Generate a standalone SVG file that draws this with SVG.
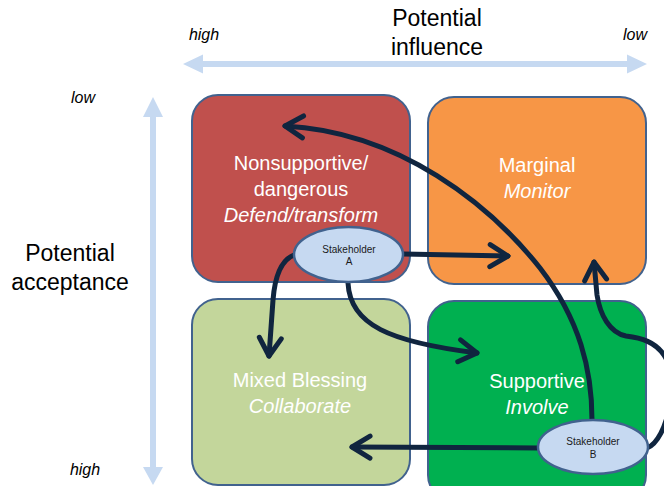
<svg xmlns="http://www.w3.org/2000/svg" width="664" height="486" viewBox="0 0 664 486">
  <style>
    text { font-family: "Liberation Sans", Arial, sans-serif; text-anchor: middle; }
    .axis { font-size: 23px; fill: #000; }
    .tick { font-size: 16px; font-style: italic; fill: #000; }
    .quad { stroke: #41628E; stroke-width: 2; }
    .qlabel { font-size: 20px; fill: #ffffff; }
    .it { font-style: italic; }
    .stake { fill: #C6D9F1; stroke: #41628E; stroke-width: 2.5; }
    .stext { font-size: 10px; fill: #1a1a1a; }
    .link { fill: none; stroke: #10253F; stroke-width: 5; stroke-linecap: round; }
    .bar { fill: #C6D9F1; }
  </style>
  <defs>
    <marker id="open" markerUnits="userSpaceOnUse" markerWidth="40" markerHeight="40" refX="0" refY="0" orient="auto" overflow="visible" viewBox="-30 -20 40 40">
      <path d="M -18 -11 L 0 0 L -18 11" fill="none" stroke="#10253F" stroke-width="5" stroke-linecap="round" stroke-linejoin="round"/>
    </marker>
  </defs>

  <!-- axes -->
  <g id="axis-influence">
    <polygon class="bar" points="183,64 203,54.5 203,61 627,61 627,54.5 647,64 627,73.5 627,67 203,67 203,73.5"/>
    <text class="axis" x="437" y="26">Potential</text>
    <text class="axis" x="437" y="55">influence</text>
    <text class="tick" x="204" y="40">high</text>
    <text class="tick" x="635" y="40">low</text>
  </g>
  <g id="axis-acceptance">
    <polygon class="bar" points="153,97 163,117 156,117 156,467 163,467 153,485 143,467 150,467 150,117 143,117"/>
    <text class="axis" x="70" y="261">Potential</text>
    <text class="axis" x="70" y="290">acceptance</text>
    <text class="tick" x="83" y="103">low</text>
    <text class="tick" x="85" y="475">high</text>
  </g>

  <!-- quadrants -->
  <g id="nonsupportive">
    <rect class="quad" x="192" y="95" width="218" height="187" rx="26" fill="#C0504D"/>
    <text class="qlabel" x="301" y="170">Nonsupportive/</text>
    <text class="qlabel" x="301" y="196">dangerous</text>
    <text class="qlabel it" x="301" y="222">Defend/transform</text>
  </g>
  <g id="marginal">
    <rect class="quad" x="428" y="97" width="218" height="187" rx="26" fill="#F79646"/>
    <text class="qlabel" x="537" y="172">Marginal</text>
    <text class="qlabel it" x="537" y="198">Monitor</text>
  </g>
  <g id="mixed-blessing">
    <rect class="quad" x="192" y="299" width="218" height="186" rx="26" fill="#C3D69B"/>
    <text class="qlabel" x="300" y="387">Mixed Blessing</text>
    <text class="qlabel it" x="300" y="413">Collaborate</text>
  </g>
  <g id="supportive">
    <rect class="quad" x="428" y="301" width="218" height="200" rx="26" fill="#00B050"/>
    <text class="qlabel" x="537" y="388">Supportive</text>
    <text class="qlabel it" x="537" y="414">Involve</text>
  </g>

  <!-- connectors -->
  <g id="connectors">
    <path class="link" d="M 294 255 Q 276 262 273 300 L 269 356" marker-end="url(#open)"/>
    <path class="link" d="M 403 254 L 508 256" marker-end="url(#open)"/>
    <path class="link" d="M 348 283 C 350 325 390 342 477 353" marker-end="url(#open)"/>
    <path class="link" d="M 592 420 C 592 370 580 320 540 268 C 490 205 400 132 285 126" marker-end="url(#open)"/>
    <path class="link" d="M 538 448 L 352 447" marker-end="url(#open)"/>
    <path class="link" d="M 647 448 C 668 440 680 378 664 355 C 655 342 642 338 626 336 C 610 333 600 315 597 295 L 594 262" marker-end="url(#open)"/>
  </g>

  <!-- stakeholders -->
  <g id="stakeholder-a">
    <ellipse class="stake" cx="348.5" cy="254.5" rx="54.5" ry="27.5"/>
    <text class="stext" x="349" y="253">Stakeholder</text>
    <text class="stext" x="349" y="265">A</text>
  </g>
  <g id="stakeholder-b">
    <ellipse class="stake" cx="593" cy="447" rx="55" ry="27"/>
    <text class="stext" x="593" y="445">Stakeholder</text>
    <text class="stext" x="593" y="458">B</text>
  </g>
</svg>
